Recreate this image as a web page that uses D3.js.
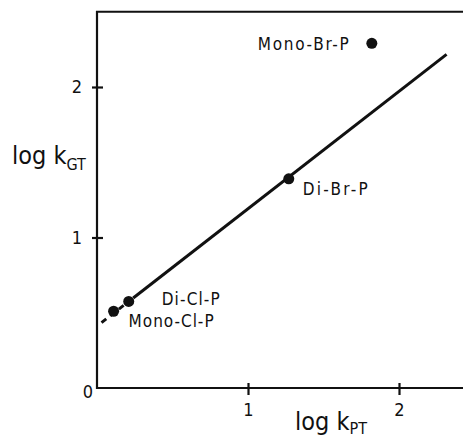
<!DOCTYPE html>
<html>
<head>
<meta charset="utf-8">
<script src="https://cdn.jsdelivr.net/npm/d3@7"></script>
<style>
  html, body { margin: 0; padding: 0; background: #fff; }
  text { font-family: "DejaVu Sans Condensed", "Liberation Sans Narrow", "DejaVu Sans", sans-serif; fill: #111; }
</style>
</head>
<body>
<svg id="chart" width="463" height="440"></svg>
<script>
// values
var compounds = ["Mono-Cl-P", "Di-Cl-P", "Di-Br-P", "Mono-Br-P"];
var logKPT = [0.11, 0.21, 1.27, 1.82];
var logKGT = [0.51, 0.575, 1.39, 2.29];
var xTicks = [1, 2];
var yTicks = [1, 2];
// regression line log kGT = a + b * log kPT
var fitIntercept = 0.411,
    fitSlope = 0.78;
var dashedPart = [0.03, 0.24],
    solidPart = [0.24, 2.315];

var svg = d3.select("#chart");
var ink = "#111";

var x = d3.scaleLinear().domain([0, 2]).range([97, 399]);
var y = d3.scaleLinear().domain([0, 2]).range([388, 87]);
var frameTop = y(2.5);

// frame (right edge falls outside the picture)
svg.append("path")
    .attr("d", "M475," + frameTop + "H" + x(0) + "V" + y(0) + "H475")
    .style("fill", "none")
    .style("stroke", ink)
    .style("stroke-width", 2.2);

// x axis
svg.append("g")
    .attr("transform", "translate(0," + y(0) + ")")
    .call(d3.axisBottom(x).tickValues(xTicks).tickFormat(d3.format("d")).tickSize(7).tickPadding(8))
    .call(function(g) {
        g.select(".domain").remove();
        g.selectAll(".tick line").attr("y1", -5).attr("y2", 7).style("stroke", ink).style("stroke-width", 2.2);
        g.selectAll(".tick text").style("font-size", "18px").style("font-family", null).attr("y", 15);
    });

// y axis
svg.append("g")
    .attr("transform", "translate(" + x(0) + ",0)")
    .call(d3.axisLeft(y).tickValues(yTicks).tickFormat(d3.format("d")).tickSize(5).tickPadding(10))
    .call(function(g) {
        g.select(".domain").remove();
        g.selectAll(".tick line").attr("x1", -5).attr("x2", 6).style("stroke", ink).style("stroke-width", 2.2);
        g.selectAll(".tick text").style("font-size", "18px").style("font-family", null);
    });

// origin label
svg.append("text")
    .attr("x", x(0) - 4)
    .attr("y", y(0) + 10)
    .attr("text-anchor", "end")
    .style("font-size", "18px")
    .text("0");

// fitted line
function fit(v) { return fitIntercept + fitSlope * v; }
svg.append("line")
    .attr("x1", x(dashedPart[0])).attr("y1", y(fit(dashedPart[0])))
    .attr("x2", x(dashedPart[1])).attr("y2", y(fit(dashedPart[1])))
    .style("stroke", ink)
    .style("stroke-width", 3)
    .style("stroke-dasharray", "6,5");
svg.append("line")
    .attr("x1", x(solidPart[0])).attr("y1", y(fit(solidPart[0])))
    .attr("x2", x(solidPart[1])).attr("y2", y(fit(solidPart[1])))
    .style("stroke", ink)
    .style("stroke-width", 3);

// points
var pts = compounds.map(function(c, i) {
    return { name: c, kpt: logKPT[i], kgt: logKGT[i] };
});
svg.selectAll("circle.pt")
    .data(pts)
    .enter()
    .append("circle")
    .attr("class", "pt")
    .attr("cx", function(d) { return x(d.kpt); })
    .attr("cy", function(d) { return y(d.kgt); })
    .attr("r", 5.5)
    .style("fill", ink);

// point labels: offset from the point, anchor, fitted width
var labelPlace = {
    "Mono-Br-P": { dx: -23, dy: 7, anchor: "end", w: 91 },
    "Di-Br-P": { dx: 14, dy: 16, anchor: "start", w: 65 },
    "Di-Cl-P": { dx: 33, dy: 4, anchor: "start", w: 58 },
    "Mono-Cl-P": { dx: 15, dy: 16, anchor: "start", w: 85 }
};
svg.selectAll("text.lbl")
    .data(pts)
    .enter()
    .append("text")
    .attr("class", "lbl")
    .attr("x", function(d) {
        var p = labelPlace[d.name];
        return x(d.kpt) + p.dx - (p.anchor == "end" ? p.w : 0);
    })
    .attr("y", function(d) { return y(d.kgt) + labelPlace[d.name].dy; })
    .attr("textLength", function(d) { return labelPlace[d.name].w; })
    .attr("lengthAdjust", "spacing")
    .style("font-size", "17px")
    .text(function(d) { return d.name; });

// axis titles
var yTitle = svg.append("text")
    .attr("x", 12)
    .attr("y", 164)
    .style("font-size", "25px");
yTitle.append("tspan").text("log k");
yTitle.append("tspan").attr("dy", 6).style("font-size", "16px").text("GT");

var xTitle = svg.append("text")
    .attr("x", 295)
    .attr("y", 430)
    .style("font-size", "25px");
xTitle.append("tspan").text("log k");
xTitle.append("tspan").attr("dy", 4).style("font-size", "16px").text("PT");
</script>
</body>
</html>
